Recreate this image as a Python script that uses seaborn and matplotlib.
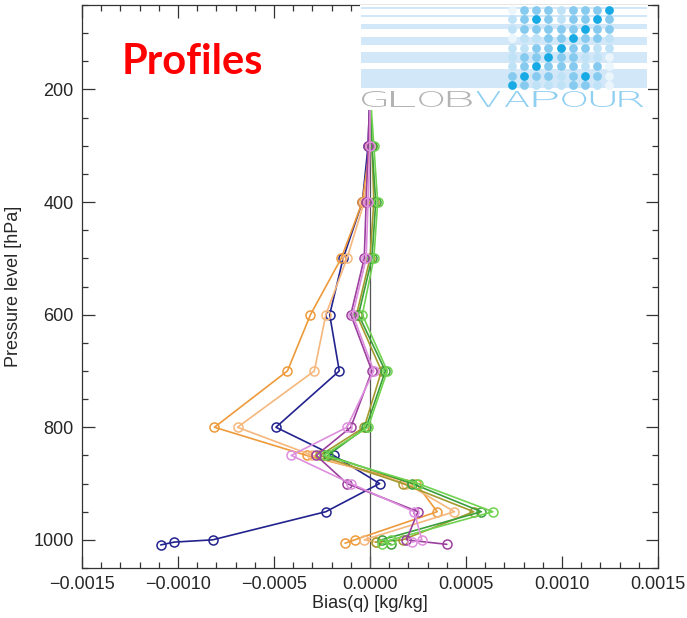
import numpy as np
import pandas as pd
import matplotlib
matplotlib.use('Agg')
import matplotlib.pyplot as plt
from matplotlib.patches import Rectangle, PathPatch
from matplotlib.textpath import TextPath
from matplotlib.font_manager import FontProperties
from matplotlib.transforms import Affine2D
from matplotlib.ticker import MultipleLocator, FuncFormatter
import seaborn as sns

# pressure levels shared by all profiles [hPa]
levels = [100, 200, 300, 400, 500, 600, 700, 800, 850, 900, 950, 1000]

# bias(q) [kg/kg] per profile
navy   = [0, 0, -0.00001, -0.00004, -0.00014, -0.00021, -0.00016, -0.00049, -0.00019, 0.00005, -0.00023, -0.00082]
orange = [0, 0, 0.0, -0.00004, -0.00015, -0.00031, -0.00043, -0.00081, -0.00033, 0.00024, 0.00035, -0.00008]
peach  = [0, 0, 0.0, -0.00003, -0.00012, -0.00023, -0.00029, -0.00069, -0.00030, 0.00019, 0.00044, -0.00003]
olive  = [0, 0, 0.00001, 0.00002, 0.0, -0.00007, 0.00006, -0.00003, -0.00026, 0.00017, 0.00054, 0.00017]
green  = [0, 0, 0.00001, 0.00003, 0.00001, -0.00006, 0.00008, -0.00002, -0.00022, 0.00022, 0.00058, 0.00006]
lime   = [0, 0, 0.00002, 0.00004, 0.00002, -0.00004, 0.00009, -0.00001, -0.00024, 0.00025, 0.00064, 0.00011]
purple = [0, 0, -0.00001, -0.00002, -0.00003, -0.00010, 0.00001, -0.00010, -0.00028, -0.00012, 0.00025, 0.00019]
violet = [0, 0, 0.0, -0.00001, -0.00002, -0.00009, 0.00002, -0.00012, -0.00041, -0.00010, 0.00023, 0.00027]

# extra near-surface points
sfc_p = {'navy': [1004, 1009], 'orange': [1006], 'peach': [1004], 'olive': [1004],
         'green': [1008], 'lime': [1008], 'purple': [1008], 'violet': [1004]}
sfc_q = {'navy': [-0.00102, -0.00109], 'orange': [-0.00013], 'peach': [0.00003], 'olive': [0.00003],
         'green': [0.00011], 'lime': [0.00006], 'purple': [0.00040], 'violet': [0.00022]}

profiles = {'navy': navy, 'orange': orange, 'peach': peach, 'olive': olive,
            'green': green, 'lime': lime, 'purple': purple, 'violet': violet}
colors = {'navy': '#23238f', 'orange': '#ee9a3a', 'peach': '#f6b77c', 'olive': '#a59a2e',
          'green': '#3a9e3a', 'lime': '#6fd34f', 'purple': '#9c3f9e', 'violet': '#dd8fdd'}

rows = []
for name, vals in profiles.items():
    for p, q in zip(levels + sfc_p[name], vals + sfc_q[name]):
        rows.append((name, p, q))
df = pd.DataFrame(rows, columns=['run', 'p', 'q'])

sns.set_theme(style='ticks')
plt.rcParams['font.family'] = ['Liberation Sans', 'DejaVu Sans']

fig = plt.figure(figsize=(6.87, 6.18), dpi=100)
ax = fig.add_axes([82/687, 1-568/618, 576/687, 563/618])

ax.axvline(0, color='#555555', lw=0.9, zorder=1)
sns.lineplot(data=df, x='q', y='p', hue='run', palette=colors, estimator=None,
             sort=False, legend=False, ax=ax, lw=1.2, marker='o', ms=6.5)
# hollow circles in the line colour
for ln in ax.lines:
    ln.set_markerfacecolor('none')
    ln.set_markeredgecolor(ln.get_color())
    ln.set_markeredgewidth(1.1)

ax.set_xlim(-0.0015, 0.0015)
ax.set_ylim(1050, 50)
ax.xaxis.set_major_locator(MultipleLocator(0.0005))
ax.xaxis.set_minor_locator(MultipleLocator(0.0001))
ax.xaxis.set_major_formatter(FuncFormatter(lambda v, pos: ('%.4f' % v).replace('-', '\u2212')))
ax.set_yticks([200, 400, 600, 800, 1000])
ax.yaxis.set_minor_locator(MultipleLocator(50))
ax.tick_params(which='both', direction='in', top=True, right=True,
               labelsize=13, color='#333333', width=0.9)
ax.tick_params(which='major', length=9, pad=6)
ax.tick_params(which='minor', length=4)
for s in ax.spines.values():
    s.set_color('#333333')
    s.set_linewidth(0.9)
ax.set_xlabel('Bias(q) [kg/kg]', fontsize=13, labelpad=1)
ax.set_ylabel('Pressure level [hPa]', fontsize=13, labelpad=8)

fig.text(122/687, 1-74/618, 'Profiles', color='#ff0000', fontsize=30,
         fontweight='bold', family=['Lato', 'DejaVu Sans'], ha='left', va='baseline')

# GlobVapour logo (decoration)
lg = fig.add_axes([360/687, 1-110/618, 288/687, 105/618], zorder=5)
lg.set_xlim(360, 648)
lg.set_ylim(110, 5)
lg.set_facecolor('white')
lg.set_xticks([])
lg.set_yticks([])
for s in lg.spines.values():
    s.set_visible(False)
bands = [(7, 9), (15, 17), (24, 29), (37, 45), (52, 63), (69, 88)]
for y0, y1 in bands:
    lg.add_patch(Rectangle((361, y0), 286, y1 - y0, color='#d2e8f8', lw=0))
dots = np.array([
    [0, 2, 2, 2, 1, 2, 2, 2, 3],
    [1, 2, 3, 2, 1, 2, 2, 3, 2],
    [1, 2, 2, 2, 2, 2, 3, 2, 2],
    [0, 1, 1, 2, 2, 3, 2, 2, 1],
    [1, 1, 2, 2, 3, 2, 2, 1, 1],
    [1, 2, 2, 3, 2, 2, 1, 1, 0],
    [1, 2, 3, 2, 2, 2, 1, 2, 0],
    [2, 3, 2, 2, 1, 2, 3, 2, 0],
    [3, 2, 1, 1, 1, 2, 2, 1, 0],
])
shades = ['#eaf5fc', '#bfe2f6', '#86cbef', '#18aae4']
dx = np.linspace(512, 609, 9)
dy = np.linspace(10, 85, 9)
for i, yy in enumerate(dy):
    for j, xx in enumerate(dx):
        lg.scatter(xx, yy, s=40, color=shades[dots[i, j]], lw=0)

# wide, squat letters: stretch glyph paths to fill the logo width
fp = FontProperties(family='DejaVu Sans', weight='light')
for k, ch in enumerate('GLOBVAPOUR'):
    tp = TextPath((0, 0), ch, size=10, prop=fp)
    bb = tp.get_extents()
    sx = 24.0 / bb.width
    sy = 16.0 / bb.height
    tr = Affine2D().translate(-bb.x0, -bb.y0).scale(sx, -sy).translate(362 + k * 28.6, 107)
    lg.add_patch(PathPatch(tr.transform_path(tp), lw=0,
                           color='#b3b3b3' if k < 4 else '#8fcff2'))

plt.savefig('out.png', dpi=100)
